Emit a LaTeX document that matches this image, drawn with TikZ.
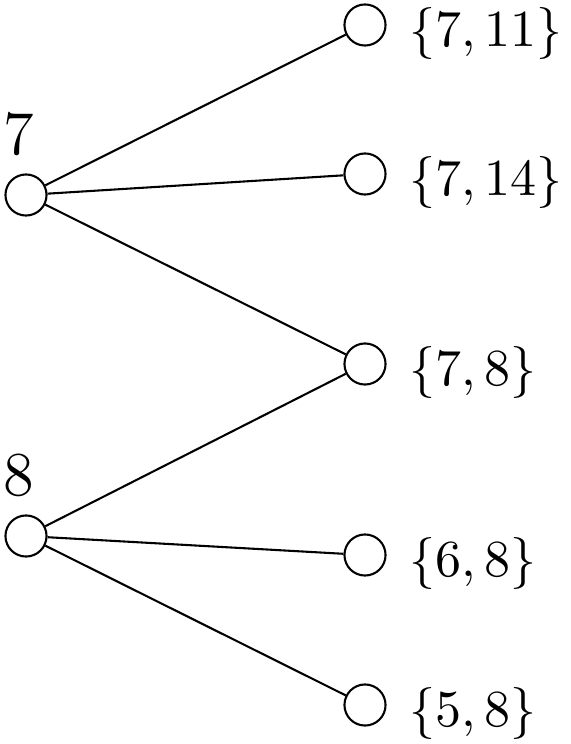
\documentclass[tikz,border=0pt]{standalone}
\usetikzlibrary{positioning}

\tikzset{
  vert/.style={circle, draw, line width=0.4pt, minimum size=7.9pt, inner sep=0pt},
  setlabel/.style={inner sep=3.33pt, yshift=-1.7pt},
  edge/.style={line width=0.4pt}
}

\begin{document}
\begin{tikzpicture}[x=0.1923pt, y=-0.1923pt]
    \useasboundingbox (0,0) rectangle (570,744);

    % Left vertices
    \node[vert] (a7) at (26,195) {};
    \node[vert] (a8) at (26,536) {};
    \node[above=0.1pt of a7, xshift=-1.4pt] (t7) {\large $7$};
    \node[above=0.1pt of a8, xshift=-1.4pt] (t8) {\large $8$};

    % Right vertices
    \node[vert] (b1) at (365,25) {};
    \node[vert] (b2) at (365,174) {};
    \node[vert] (b3) at (365,364) {};
    \node[vert] (b4) at (365,555) {};
    \node[vert] (b5) at (365,705) {};

    % Set labels
    \node[setlabel, right=0.9pt of b1] (s1) {$\{7,11\}$};
    \node[setlabel, right=0.9pt of b2] (s2) {$\{7,14\}$};
    \node[setlabel, right=0.9pt of b3] (s3) {$\{7,8\}$};
    \node[setlabel, right=0.9pt of b4] (s4) {$\{6,8\}$};
    \node[setlabel, right=0.9pt of b5] (s5) {$\{5,8\}$};

    % Edges
    \draw[edge] (a7) -- (b1);
    \draw[edge] (a7) -- (b2);
    \draw[edge] (a7) -- (b3);
    \draw[edge] (a8) -- (b3);
    \draw[edge] (a8) -- (b4);
    \draw[edge] (a8) -- (b5);
\end{tikzpicture}
\end{document}
